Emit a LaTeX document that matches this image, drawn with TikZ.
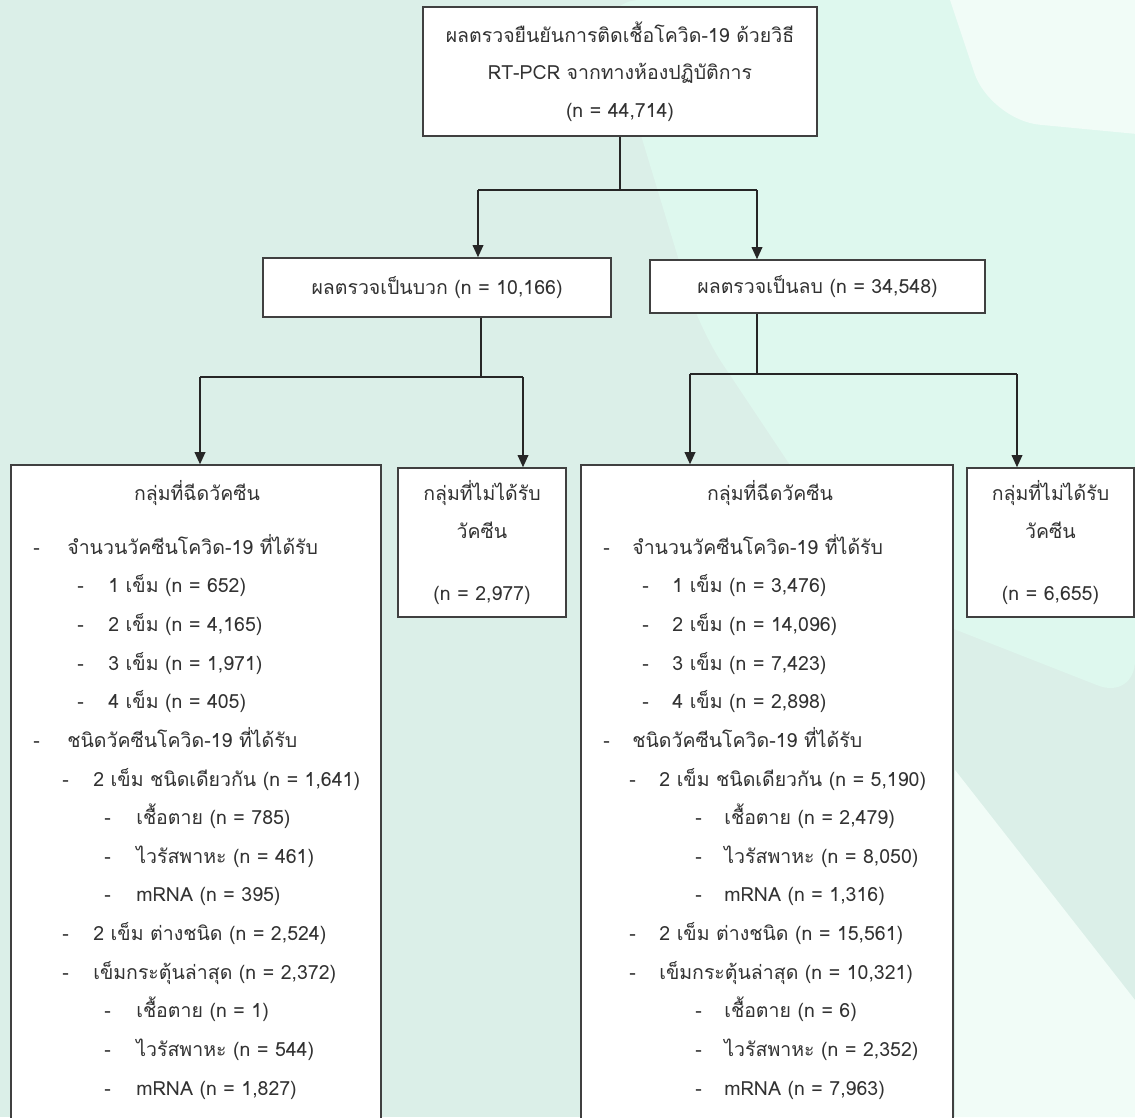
\documentclass[tikz,border=0pt]{standalone}
\usepackage{fontspec}
\setmainfont[Script=Thai]{Loma}
\usetikzlibrary{arrows.meta}
\usetikzlibrary{calc}

\definecolor{bgbase}{RGB}{219,239,232}
\definecolor{bglight}{RGB}{222,248,238}
\definecolor{bgwhite}{RGB}{241,252,247}
\definecolor{ink}{RGB}{50,50,50}

\begin{document}
\begin{tikzpicture}[x=0.02cm, y=-0.02cm, font=\fontsize{11.1}{21.5}\selectfont,
    box/.style = {draw=black!75, line width=0.8pt, fill=white, text=ink, align=center, inner sep=0pt},
    row/.style = {anchor=west, inner sep=0pt, text=ink, text height=11pt, text depth=4pt},
    trunk/.style = {draw=black!85, line width=0.6pt},
    arr/.style = {draw=black!85, line width=1.2pt, -{Triangle[length=7pt, width=6pt]}}]
    % background
    \useasboundingbox (0,0) rectangle (1135,1117);
    \fill[bgbase] (0,0) rectangle (1135,1117);
    \fill[bglight, rounded corners=0.8cm] (600,0) -- (1135,0) -- (1135,700) -- (880,600) -- (700,330) -- cycle;
    \fill[bgwhite, rounded corners=1cm] (930,-60) -- (1200,-60) -- (1200,140) -- (990,120) -- cycle;
    \fill[bgwhite] (955,770) -- (1135,1000) -- (1135,1117) -- (955,1117) -- cycle;

    \node [box, minimum width=7.88cm, minimum height=2.58cm] (0) at (620, 71.5)
        {ผลตรวจยืนยันการติดเชื้อโควิด-19 ด้วยวิธี\\RT-PCR จากทางห้องปฏิบัติการ\\(n = 44,714)};
    \node [box, minimum width=6.96cm, minimum height=1.18cm] (1) at (437, 287.5) {ผลตรวจเป็นบวก (n = 10,166)};
    \node [box, minimum width=6.70cm, minimum height=1.06cm] (2) at (817.5, 286.5) {ผลตรวจเป็นลบ (n = 34,548)};
    \node [box, minimum width=7.40cm, minimum height=13.5cm] (3) at (196, 802.5) {};
    \node [box, minimum width=3.36cm, minimum height=2.98cm] (4) at (482, 542.5)
        {กลุ่มที่ไม่ได้รับ\\วัคซีน\\[14pt](n = 2,977)};
    \node [box, minimum width=7.44cm, minimum height=13.5cm] (5) at (767, 802.5) {};
    \node [box, minimum width=3.34cm, minimum height=2.98cm] (6) at (1050.5, 542.5)
        {กลุ่มที่ไม่ได้รับ\\วัคซีน\\[14pt](n = 6,655)};

    \node [row, anchor=center] (t3) at (197, 494) {กลุ่มที่ฉีดวัคซีน};
    \node [row, anchor=center] (t5) at (770, 494) {กลุ่มที่ฉีดวัคซีน};

    \foreach \dx/\tx/\txt [count=\i] in {
        33/67/{จำนวนวัคซีนโควิด-19 ที่ได้รับ}, 77/108/{1 เข็ม (n = 652)}, 77/108/{2 เข็ม (n = 4,165)},
        77/108/{3 เข็ม (n = 1,971)}, 77/108/{4 เข็ม (n = 405)}, 33/67/{ชนิดวัคซีนโควิด-19 ที่ได้รับ},
        62/93/{2 เข็ม ชนิดเดียวกัน (n = 1,641)}, 104/136/{เชื้อตาย (n = 785)}, 104/136/{ไวรัสพาหะ (n = 461)},
        104/136/{mRNA (n = 395)}, 62/93/{2 เข็ม ต่างชนิด (n = 2,524)}, 62/93/{เข็มกระตุ้นล่าสุด (n = 2,372)},
        104/136/{เชื้อตาย (n = 1)}, 104/136/{ไวรัสพาหะ (n = 544)}, 104/136/{mRNA (n = 1,827)}} {
        \node [row] (ld\i) at ({\dx}, {548+38.64*(\i-1)}) {-};
        \node [row] (l\i) at ({\tx}, {548+38.64*(\i-1)}) {\txt};
    }
    \foreach \dx/\tx/\txt [count=\i] in {
        603/632/{จำนวนวัคซีนโควิด-19 ที่ได้รับ}, 642/672/{1 เข็ม (n = 3,476)}, 642/672/{2 เข็ม (n = 14,096)},
        642/672/{3 เข็ม (n = 7,423)}, 642/672/{4 เข็ม (n = 2,898)}, 603/632/{ชนิดวัคซีนโควิด-19 ที่ได้รับ},
        629/659/{2 เข็ม ชนิดเดียวกัน (n = 5,190)}, 695/724/{เชื้อตาย (n = 2,479)}, 695/724/{ไวรัสพาหะ (n = 8,050)},
        695/724/{mRNA (n = 1,316)}, 629/659/{2 เข็ม ต่างชนิด (n = 15,561)}, 629/659/{เข็มกระตุ้นล่าสุด (n = 10,321)},
        695/724/{เชื้อตาย (n = 6)}, 695/724/{ไวรัสพาหะ (n = 2,352)}, 695/724/{mRNA (n = 7,963)}} {
        \node [row] (rd\i) at ({\dx}, {548+38.64*(\i-1)}) {-};
        \node [row] (r\i) at ({\tx}, {548+38.64*(\i-1)}) {\txt};
    }

    \coordinate (s0) at (620, 190);
    \coordinate (s0l) at (478, 190);
    \coordinate (s0r) at (757, 190);
    \coordinate (s1) at (481, 377);
    \coordinate (s1l) at (200, 377);
    \coordinate (s1r) at (523, 377);
    \coordinate (s2) at (757, 374);
    \coordinate (s2l) at (690, 374);
    \coordinate (s2r) at (1017, 374);

    \draw[trunk] (0) -- (s0);
    \draw[trunk] (s0l) -- (s0r);
    \draw[arr] (s0l) -- (s0l |- 1.north);
    \draw[arr] (s0r) -- (s0r |- 2.north);
    \draw[trunk] (s1 |- 1.south) -- (s1);
    \draw[trunk] (s1l) -- (s1r);
    \draw[arr] (s1l) -- (s1l |- 3.north);
    \draw[arr] (s1r) -- (s1r |- 4.north);
    \draw[trunk] (s2 |- 2.south) -- (s2);
    \draw[trunk] (s2l) -- (s2r);
    \draw[arr] (s2l) -- (s2l |- 5.north);
    \draw[arr] (s2r) -- (s2r |- 6.north);
\end{tikzpicture}
\end{document}
